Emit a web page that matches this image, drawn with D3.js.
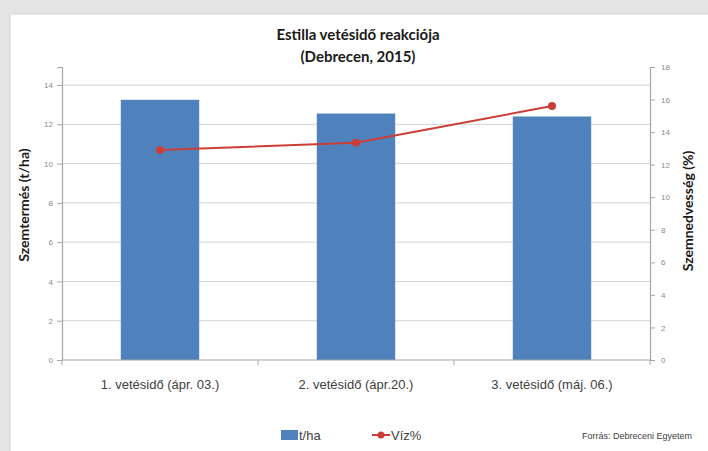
<!DOCTYPE html>
<html>
<head>
<meta charset="utf-8">
<script src="https://cdn.jsdelivr.net/npm/d3@7"></script>
<style>
  html, body { margin: 0; padding: 0; background: #fff; }
  svg { display: block; }
</style>
</head>
<body>
<svg id="chart" width="708" height="451"></svg>
<script>
// ---- data ----
const categories = ["1. vetésidő (ápr. 03.)", "2. vetésidő (ápr.20.)", "3. vetésidő (máj. 06.)"];
const yieldValues = [13.25, 12.55, 12.4];      // t/ha (bars, left axis)
const moistureValues = [12.9, 13.35, 15.6];    // Víz% (line, right axis)
const leftTicks = [0, 2, 4, 6, 8, 10, 12, 14];
const rightTicks = [0, 2, 4, 6, 8, 10, 12, 14, 16, 18];
const titleLines = ["Estilla vetésidő reakciója", "(Debrecen, 2015)"];
const leftTitle = "Szemtermés (t/ha)";
const rightTitle = "Szemnedvesség (%)";
const legendLabels = ["t/ha", "Víz%"];
const sourceText = "Forrás: Debreceni Egyetem";

// ---- layout ----
const W = 708, H = 451;
const plot = { left: 62, right: 650, top: 67, bottom: 360 };
const barColor = "#4f81bd";
const lineColor = "#cc3d35";

const svg = d3.select("#chart");

// frame
svg.append("rect").attr("width", W).attr("height", H).attr("fill", "#e4e4e4");
svg.append("rect").attr("x", 10).attr("y", 14).attr("width", W - 10).attr("height", H - 14).attr("fill", "#ffffff");
svg.append("line").attr("x1", 10).attr("x2", 10).attr("y1", 14).attr("y2", H).attr("stroke", "#d4d4d4");
svg.append("line").attr("x1", 10).attr("x2", W).attr("y1", 14).attr("y2", 14).attr("stroke", "#d4d4d4");

// scales
const x = d3.scaleBand().domain(categories).range([plot.left, plot.right]).paddingInner(0.6).paddingOuter(0.3);
const xOuter = d3.scaleBand().domain(categories).range([plot.left, plot.right]);
const yL = d3.scaleLinear().domain([0, 14.92]).range([plot.bottom, plot.top]);
const yR = d3.scaleLinear().domain([0, 18]).range([plot.bottom, plot.top]);

// gridlines
svg.append("g").selectAll("line").data(leftTicks.filter(d => d > 0)).join("line")
  .attr("x1", plot.left).attr("x2", plot.right)
  .attr("y1", d => yL(d)).attr("y2", d => yL(d))
  .attr("stroke", "#d3d3d3").attr("stroke-width", 1);

// bars
svg.append("g").selectAll("rect").data(yieldValues).join("rect")
  .attr("x", (d, i) => x(categories[i]))
  .attr("width", x.bandwidth())
  .attr("y", d => yL(d))
  .attr("height", d => yL(0) - yL(d))
  .attr("fill", barColor);

// axes
const axisColor = "#a6a6a6";
const gL = svg.append("g").attr("transform", `translate(${plot.left},0)`)
  .call(d3.axisLeft(yL).tickValues(leftTicks).tickSize(5).tickPadding(4));
const gR = svg.append("g").attr("transform", `translate(${plot.right},0)`)
  .call(d3.axisRight(yR).tickValues(rightTicks).tickSize(5).tickPadding(6));
const gX = svg.append("g").attr("transform", `translate(0,${plot.bottom})`)
  .call(d3.axisBottom(xOuter).tickSize(0).tickFormat(""));
// x ticks at band boundaries
const bounds = categories.map(c => xOuter(c)).concat([plot.right]);
svg.append("g").selectAll("line").data(bounds).join("line")
  .attr("x1", d => d).attr("x2", d => d)
  .attr("y1", plot.bottom).attr("y2", plot.bottom + 5)
  .attr("stroke", axisColor);

[gL, gR, gX].forEach(g => {
  g.select(".domain").attr("stroke", axisColor).attr("stroke-width", 1.2);
  g.selectAll(".tick line").attr("stroke", axisColor);
  g.selectAll(".tick text").attr("fill", "#8a8a8a").attr("font-size", 8)
    .attr("font-family", "Liberation Sans, Arial, sans-serif");
});
gX.select(".domain").attr("d", `M${plot.left},0H${plot.right}`);

// category labels
svg.append("g").selectAll("text").data(categories).join("text")
  .attr("x", d => xOuter(d) + xOuter.bandwidth() / 2)
  .attr("y", 389)
  .attr("text-anchor", "middle")
  .attr("font-family", "Liberation Sans, Arial, sans-serif")
  .attr("font-size", 13)
  .attr("fill", "#404040")
  .text(d => d);

// line series
const pts = moistureValues.map((v, i) => [x(categories[i]) + x.bandwidth() / 2, yR(v)]);
svg.append("path").datum(pts)
  .attr("d", d3.line())
  .attr("fill", "none").attr("stroke", lineColor).attr("stroke-width", 2);
svg.append("g").selectAll("circle").data(pts).join("circle")
  .attr("cx", d => d[0]).attr("cy", d => d[1]).attr("r", 4)
  .attr("fill", lineColor);

// title
svg.append("g").selectAll("text").data(titleLines).join("text")
  .attr("x", 358).attr("y", (d, i) => 40 + i * 22)
  .attr("text-anchor", "middle")
  .attr("font-family", "Lato, Liberation Sans, sans-serif")
  .attr("font-weight", "bold")
  .attr("font-size", 15)
  .attr("fill", "#1a1a1a")
  .text(d => d);

// axis titles
svg.append("text")
  .attr("transform", "translate(29,205) rotate(-90)")
  .attr("text-anchor", "middle")
  .attr("font-family", "Lato, Liberation Sans, sans-serif")
  .attr("font-weight", "bold").attr("font-size", 14).attr("fill", "#1a1a1a")
  .text(leftTitle);
svg.append("text")
  .attr("transform", "translate(693,211) rotate(-90)")
  .attr("text-anchor", "middle")
  .attr("font-family", "Lato, Liberation Sans, sans-serif")
  .attr("font-weight", "bold").attr("font-size", 14).attr("fill", "#1a1a1a")
  .text(rightTitle);

// legend
const leg = svg.append("g").attr("font-family", "Liberation Sans, Arial, sans-serif").attr("font-size", 13).attr("fill", "#404040");
leg.append("rect").attr("x", 281).attr("y", 430).attr("width", 17).attr("height", 10).attr("fill", barColor);
leg.append("text").attr("x", 299).attr("y", 440).text(legendLabels[0]);
leg.append("line").attr("x1", 372).attr("x2", 390).attr("y1", 435).attr("y2", 435).attr("stroke", lineColor).attr("stroke-width", 2);
leg.append("circle").attr("cx", 381).attr("cy", 435).attr("r", 3.5).attr("fill", lineColor);
leg.append("text").attr("x", 391).attr("y", 440).text(legendLabels[1]);

// source
svg.append("text").attr("x", 692).attr("y", 439).attr("text-anchor", "end")
  .attr("font-family", "Liberation Sans, Arial, sans-serif").attr("font-size", 9).attr("fill", "#404040")
  .text(sourceText);
</script>
</body>
</html>
